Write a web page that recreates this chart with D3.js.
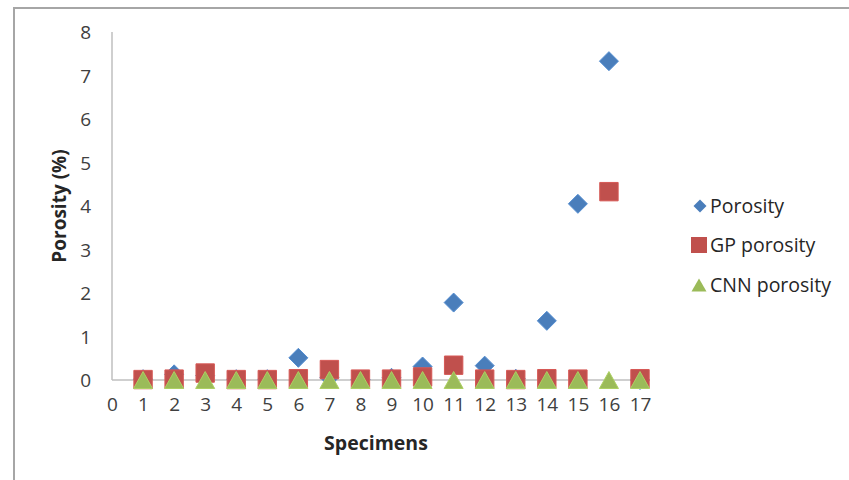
<!DOCTYPE html>
<html><head><meta charset="utf-8">
<script src="https://cdn.jsdelivr.net/npm/d3@7"></script>
<style>body{margin:0;background:#fff}svg{display:block}</style>
</head><body>
<script>
const specimens = [1,2,3,4,5,6,7,8,9,10,11,12,13,14,15,16,17];
const porosity    = [0.02,0.13,0.10,0.02,0.02,0.51,0.06,0.01,0.05,0.31,1.78,0.33,0.03,1.36,4.05,7.33,0.00];
const gpPorosity  = [0.01,0.02,0.16,0.01,0.01,0.03,0.24,0.02,0.02,0.07,0.34,0.02,0.01,0.03,0.02,4.33,0.03];
const cnnPorosity = [0,0,0,0,0,0,0,0,0,0,0,0,0,0,0,0,0];
const xTicks = [0,1,2,3,4,5,6,7,8,9,10,11,12,13,14,15,16,17];
const yTicks = [0,1,2,3,4,5,6,7,8];
const seriesNames = ["Porosity","GP porosity","CNN porosity"];
const colors = ["#4a7ebb","#c0504d","#9bbb59"];

const W = 849, H = 480;
const svg = d3.select("body").append("svg").attr("width",W).attr("height",H);
const font = "'Open Sans', sans-serif";

// outer frame
svg.append("path").attr("d",`M14,${H} L14,8 L${W},8`).attr("fill","none")
  .attr("stroke","#a6a6a6").attr("stroke-width",2);

const x = d3.scaleLinear().domain([0,17]).range([112,640]);
const y = d3.scaleLinear().domain([0,8]).range([380,32]);

// axes lines
svg.append("line").attr("x1",x(0)).attr("x2",x(0)).attr("y1",y(8)).attr("y2",y(0))
  .attr("stroke","#bfbfbf").attr("stroke-width",1.5);
svg.append("line").attr("x1",x(0)).attr("x2",x(17)+10).attr("y1",y(0)).attr("y2",y(0))
  .attr("stroke","#bfbfbf").attr("stroke-width",1.5);

// tick labels via axis generators (no tick marks)
const yAxis = d3.axisLeft(y).tickValues(yTicks).tickSize(0).tickPadding(0).tickFormat(d3.format("d"));
const gy = svg.append("g").attr("transform","translate(91,0)").call(yAxis);
gy.select(".domain").remove();
gy.selectAll("text").attr("font-family",font).attr("font-size",19).attr("fill","#404040").attr("dy","0.35em");

const xAxis = d3.axisBottom(x).tickValues(xTicks).tickSize(0).tickPadding(0).tickFormat(d3.format("d"));
const gx = svg.append("g").attr("transform","translate(0,397)").call(xAxis);
gx.select(".domain").remove();
gx.selectAll("text").attr("font-family",font).attr("font-size",19).attr("fill","#404040").attr("dy","0.71em");

// axis titles
svg.append("text").attr("x",376).attr("y",450).attr("text-anchor","middle")
  .attr("font-family",font).attr("font-size",19.5).attr("font-weight","bold").attr("fill","#262626").text("Specimens");
svg.append("text").attr("transform","translate(66,206) rotate(-90)").attr("text-anchor","middle")
  .attr("font-family",font).attr("font-size",19).attr("font-weight","bold").attr("fill","#262626").text("Porosity (%)");

function diamondPath(r){ return `M0,${-r}L${r},0L0,${r}L${-r},0Z`; }
function squarePath(h){ return `M${-h},${-h}H${h}V${h}H${-h}Z`; }
function triPath(w,h){ return `M0,${-h/2}L${w/2},${h/2}L${-w/2},${h/2}Z`; }

function drawSeries(vals, path, color){
  svg.append("g").selectAll("path").data(specimens).join("path")
    .attr("d",path)
    .attr("transform",(d,i)=>`translate(${x(d)},${y(vals[i])})`)
    .attr("fill",color).attr("stroke",d3.color(color).brighter(0.3)).attr("stroke-width",1);
}
drawSeries(porosity, diamondPath(9.5), colors[0]);
drawSeries(gpPorosity, squarePath(9.2), colors[1]);
drawSeries(cnnPorosity, triPath(19,17), colors[2]);

// legend
const legY = [206,245,285];
const legPaths = [diamondPath(6.5), squarePath(8), triPath(15,13)];
seriesNames.forEach((n,i)=>{
  svg.append("path").attr("d",legPaths[i])
    .attr("transform",`translate(${i===0?700:699},${legY[i]})`)
    .attr("fill",colors[i]);
  svg.append("text").attr("x",710).attr("y",legY[i]).attr("dy","0.35em")
    .attr("font-family",font).attr("font-size",19.5).attr("fill","#262626").text(n);
});
</script>
</body></html>
